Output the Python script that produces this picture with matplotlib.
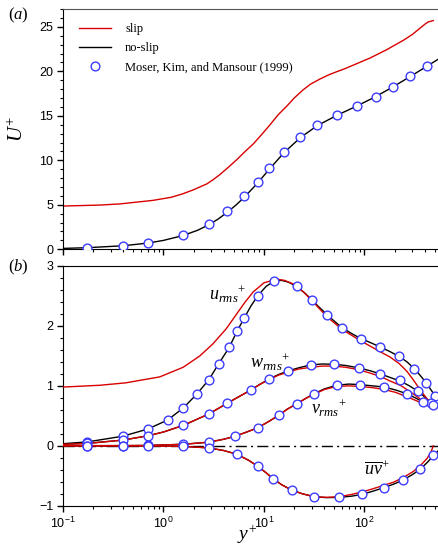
import matplotlib
matplotlib.use('Agg')
import matplotlib.pyplot as plt

plt.rcParams['font.family'] = 'Liberation Sans'
plt.rcParams['mathtext.fontset'] = 'custom'
plt.rcParams['mathtext.rm'] = 'Liberation Serif'
plt.rcParams['mathtext.it'] = 'Liberation Serif:italic'

red = '#d80000'
blue = '#3c3cff'

# ---- panel (a): mean velocity ----
yp_ns_U = [0.1, 0.175, 0.4, 0.7, 1.0, 1.57, 2.2, 2.82, 3.5, 4.3, 5.3, 6.3, 7.5, 8.65,
           11.1, 15.8, 23, 34, 53, 84, 129, 192, 284, 422, 540, 590]
U_ns = [0.1, 0.18, 0.4, 0.7, 1.0, 1.55, 2.15, 2.75, 3.4, 4.15, 5.0, 5.8, 6.7, 7.45,
        8.9, 10.85, 12.55, 13.9, 15.05, 16.1, 17.15, 18.25, 19.4, 20.6, 21.35, 21.6]

yp_s_U = [0.1, 0.233, 0.37, 0.79, 1.2, 1.57, 2.0, 2.7, 3.1, 3.6, 4.3, 5.35, 6.5, 7.84,
          9.5, 11.5, 13.8, 16.9, 20, 24.4, 29, 36.3, 44, 52.8, 64, 77.6, 114, 167, 245,
          300, 353, 400, 430, 484]
U_s = [4.86, 4.97, 5.1, 5.5, 5.85, 6.25, 6.7, 7.35, 7.8, 8.35, 9.1, 10.06, 11.0, 11.85,
       12.9, 14.0, 15.1, 16.1, 17.0, 17.9, 18.55, 19.15, 19.6, 19.95, 20.3, 20.7, 21.5,
       22.44, 23.5, 24.15, 24.8, 25.3, 25.55, 25.7]

yp_mkm_U = [0.175, 0.395, 0.70, 1.57, 2.82, 4.31, 6.3, 8.65, 11.1, 15.8, 23, 33.9,
            52.8, 83.5, 129, 192, 284, 422]
U_mkm = [0.2, 0.4, 0.72, 1.58, 2.8, 4.3, 5.95, 7.6, 9.1, 10.95, 12.65, 13.92,
         15.05, 16.1, 17.15, 18.28, 19.44, 20.64]

# ---- panel (b): turbulence intensities ----
yp_ns_u = [0.1, 0.175, 0.395, 0.7, 1.1, 1.57, 2.14, 2.82, 3.55, 4.5, 5.35, 6.3, 7.4, 8.65,
           10.5, 12.7, 15, 17.5, 21.1, 25, 29.9, 35, 42.5, 50, 60, 75, 92, 115, 143, 180,
           222, 265, 312, 360, 412, 460, 508, 560, 590]
u_ns = [0.035, 0.065, 0.16, 0.28, 0.43, 0.63, 0.86, 1.1, 1.37, 1.64, 1.9, 2.12, 2.33, 2.5,
        2.66, 2.75, 2.76, 2.73, 2.66, 2.56, 2.44, 2.32, 2.19, 2.08, 1.97, 1.87, 1.79, 1.72,
        1.65, 1.57, 1.49, 1.40, 1.29, 1.17, 1.05, 0.93, 0.83, 0.76, 0.74]
yp_s_u = [0.1, 0.233, 0.42, 0.92, 1.57, 2.3, 3.1, 4.2, 5.35, 6.5, 7.84, 10, 13.4, 16, 19.6,
          25, 30, 42.5, 60, 92, 143, 180, 222, 265, 300, 340, 375, 430, 460, 484]
u_s = [0.98, 1.01, 1.05, 1.15, 1.31, 1.50, 1.70, 1.95, 2.2, 2.40, 2.57, 2.72, 2.78, 2.76,
       2.70, 2.56, 2.42, 2.15, 1.94, 1.75, 1.57, 1.48, 1.37, 1.24, 1.12, 0.99, 0.89, 0.76,
       0.69, 0.65]
yp_mkm_u = [0.175, 0.395, 0.70, 1.1, 1.57, 2.14, 2.82, 3.55, 4.5, 5.35, 6.3, 8.65, 12.7,
            21.1, 29.9, 42.5, 60, 92, 143, 222, 312, 412, 508]
u_mkm = [0.067, 0.16, 0.28, 0.43, 0.63, 0.86, 1.1, 1.37, 1.64, 1.91, 2.14, 2.5, 2.75,
         2.67, 2.44, 2.19, 1.97, 1.79, 1.65, 1.50, 1.28, 1.05, 0.83]

yp_ns_w = [0.1, 0.175, 0.395, 0.7, 1.0, 1.57, 2.82, 4.31, 5.5, 7.4, 9, 11.1, 14, 17.5, 22,
           29.2, 38, 49.7, 65, 87.7, 115, 143, 180, 227, 280, 340, 400, 460, 537, 590]
w_ns = [0.025, 0.04, 0.095, 0.167, 0.23, 0.34, 0.53, 0.71, 0.81, 0.93, 1.02, 1.11, 1.19,
        1.25, 1.30, 1.35, 1.365, 1.36, 1.34, 1.30, 1.25, 1.20, 1.14, 1.08, 1.0, 0.91, 0.81,
        0.72, 0.64, 0.62]
yp_s_w = [0.1, 0.175, 0.395, 0.7, 1.0, 1.57, 2.82, 4.31, 5.5, 7.4, 9, 11.1, 14, 17.5, 22,
          29.2, 38, 49.7, 65, 87.7, 115, 143, 180, 227, 280, 340, 400, 450, 484]
w_s = [0.025, 0.04, 0.095, 0.167, 0.23, 0.34, 0.53, 0.71, 0.81, 0.93, 1.02, 1.10, 1.18,
       1.23, 1.28, 1.31, 1.33, 1.33, 1.31, 1.27, 1.21, 1.16, 1.08, 1.01, 0.91, 0.81, 0.72,
       0.67, 0.64]
yp_mkm_w = [0.175, 0.395, 0.7, 1.57, 2.82, 4.31, 7.4, 11.1, 17.5, 29.2, 49.7, 87.7, 143,
            227, 340, 460]
w_mkm = [0.04, 0.095, 0.167, 0.34, 0.53, 0.71, 0.93, 1.11, 1.25, 1.35, 1.36, 1.30, 1.20,
         1.09, 0.92, 0.72]

yp_ns_v = [0.1, 0.4, 0.7, 1.57, 2.82, 4, 5.15, 6.5, 8.65, 11, 14.1, 17, 21.1, 26, 31.6, 40,
           52.8, 70, 90.5, 120, 157, 205, 262, 320, 386, 476, 537, 590]
v_ns = [0.001, 0.003, 0.006, 0.025, 0.06, 0.11, 0.16, 0.22, 0.30, 0.40, 0.51, 0.61, 0.70,
        0.79, 0.87, 0.95, 1.01, 1.03, 1.02, 1.0, 0.98, 0.93, 0.87, 0.80, 0.73, 0.67, 0.64,
        0.63]
yp_s_v = [0.1, 0.4, 0.7, 1.57, 2.82, 4, 5.15, 6.5, 8.65, 11, 14.1, 17, 21.1, 26, 31.6, 40,
          52.8, 70, 90.5, 120, 157, 205, 262, 320, 386, 430, 484]
v_s = [0.001, 0.003, 0.006, 0.025, 0.06, 0.11, 0.16, 0.22, 0.30, 0.40, 0.51, 0.61, 0.70,
       0.79, 0.86, 0.94, 0.99, 1.0, 0.99, 0.97, 0.94, 0.89, 0.82, 0.76, 0.70, 0.67, 0.64]
yp_mkm_v = [0.175, 0.4, 0.7, 1.57, 2.82, 5.15, 8.65, 14.1, 21.1, 31.6, 52.8, 90.5, 157,
            262, 386, 476]
v_mkm = [0.002, 0.004, 0.008, 0.025, 0.06, 0.16, 0.30, 0.51, 0.70, 0.87, 1.01, 1.02, 0.98,
         0.87, 0.73, 0.68]

yp_ns_uv = [0.1, 0.7, 1.57, 2.82, 4, 5.35, 7, 8.65, 10.5, 12.3, 15, 18.9, 24, 31.6, 42,
            56.4, 75, 94.8, 120, 155, 195, 243, 300, 359, 420, 484, 537, 590]
uv_ns = [0.0, -0.002, -0.01, -0.035, -0.08, -0.14, -0.24, -0.34, -0.45, -0.55, -0.65,
         -0.74, -0.80, -0.85, -0.865, -0.86, -0.84, -0.81, -0.76, -0.70, -0.64, -0.57,
         -0.48, -0.39, -0.28, -0.17, -0.09, 0.0]
yp_s_uv = [0.1, 0.7, 1.57, 2.82, 4, 5.35, 7, 8.65, 10.5, 12.3, 15, 18.9, 24, 31.6, 42,
           56.4, 75, 94.8, 120, 155, 193, 243, 305, 360, 420, 460, 484]
uv_s = [0.0, -0.002, -0.01, -0.035, -0.08, -0.14, -0.24, -0.34, -0.45, -0.55, -0.65,
        -0.74, -0.80, -0.85, -0.86, -0.85, -0.81, -0.77, -0.72, -0.66, -0.61, -0.53,
        -0.43, -0.33, -0.21, -0.10, 0.0]
yp_mkm_uv = [0.175, 0.4, 0.7, 1.57, 2.82, 5.35, 8.65, 12.3, 18.9, 31.6, 56.4, 94.8, 155,
             243, 359, 484]
uv_mkm = [0.0, -0.001, -0.002, -0.01, -0.035, -0.14, -0.34, -0.56, -0.74, -0.85, -0.86,
          -0.81, -0.70, -0.57, -0.39, -0.16]

fig = plt.figure(figsize=(4.38, 5.53), dpi=100)
ax1 = fig.add_axes([0.1438, 0.5492, 0.8669, 0.4345])
ax2 = fig.add_axes([0.1438, 0.0855, 0.8669, 0.4335])

mk = dict(ls='none', marker='o', ms=6.3, mfc='white', mec=blue, mew=1.0, zorder=5)


def style(ax, ymin, ymax, major, minor):
    ax.set_xscale('log')
    ax.set_xlim(0.1, 600)
    ax.set_ylim(ymin, ymax)
    ax.set_yticks(major)
    ax.set_yticks(minor, minor=True)
    ax.spines['right'].set_visible(False)
    ax.tick_params(which='major', direction='out', length=4.5, width=1, labelsize=9,
                   pad=2.5, top=False, right=False)
    ax.tick_params(which='minor', direction='out', length=2.5, width=0.8,
                   top=False, right=False)


# panel (a)
ax1.plot(yp_s_U, U_s, color=red, lw=1.0, label='slip')
ax1.plot(yp_ns_U, U_ns, color='k', lw=1.0, label='no-slip')
ax1.plot(yp_mkm_U, U_mkm, **mk, label='Moser, Kim, and Mansour (1999)')
style(ax1, 0, 27, range(0, 26, 5), range(0, 28, 1))
ax1.spines['top'].set_color('#555555')
ax1.tick_params(axis='x', which='both', labelbottom=False)
ax1.set_ylabel(r'$U^{+}$', fontsize=15)
ax1.yaxis.set_label_coords(-0.095, 0.5)
ax1.legend(loc='upper left', bbox_to_anchor=(0.042, 0.94), frameon=False, numpoints=1,
           handlelength=2.6, handletextpad=1.1, labelspacing=0.55, borderpad=0,
           borderaxespad=0, prop={'family': 'Liberation Serif', 'size': 9})

# panel (b)
ax2.axhline(0, color='k', lw=1.0, ls=(0, (8, 3, 1.5, 3)), zorder=1)
for xs, ys in [(yp_ns_u, u_ns), (yp_ns_w, w_ns), (yp_ns_v, v_ns), (yp_ns_uv, uv_ns)]:
    ax2.plot(xs, ys, color='k', lw=1.0, zorder=2)
for xs, ys in [(yp_s_u, u_s), (yp_s_w, w_s), (yp_s_v, v_s), (yp_s_uv, uv_s)]:
    ax2.plot(xs, ys, color=red, lw=1.0, zorder=3)
for xs, ys in [(yp_mkm_u, u_mkm), (yp_mkm_w, w_mkm), (yp_mkm_v, v_mkm), (yp_mkm_uv, uv_mkm)]:
    ax2.plot(xs, ys, **mk)
style(ax2, -1, 3, range(-1, 4), [-1 + 0.2 * i for i in range(21)])

lab = dict(fontsize=13, ha='left', va='baseline')
ax2.text(2.84, 2.43, r'$u_{rms}{}^{+}$', **lab)
ax2.text(7.3, 1.30, r'$w_{rms}{}^{+}$', **lab)
ax2.text(29.4, 0.53, r'$v_{rms}{}^{+}$', **lab)
ax2.text(100, -0.49, r'$\overline{uv}^{+}$', **lab)

fig.text(247 / 438, 1 - 540 / 553, r'$y^{+}$', fontsize=14, ha='center', va='baseline')
fig.text(8 / 438, 1 - 19 / 553, r'$(a)$', fontsize=12, ha='left', va='baseline')
fig.text(8 / 438, 1 - 271 / 553, r'$(b)$', fontsize=12, ha='left', va='baseline')

fig.savefig('out.png', dpi=100)
